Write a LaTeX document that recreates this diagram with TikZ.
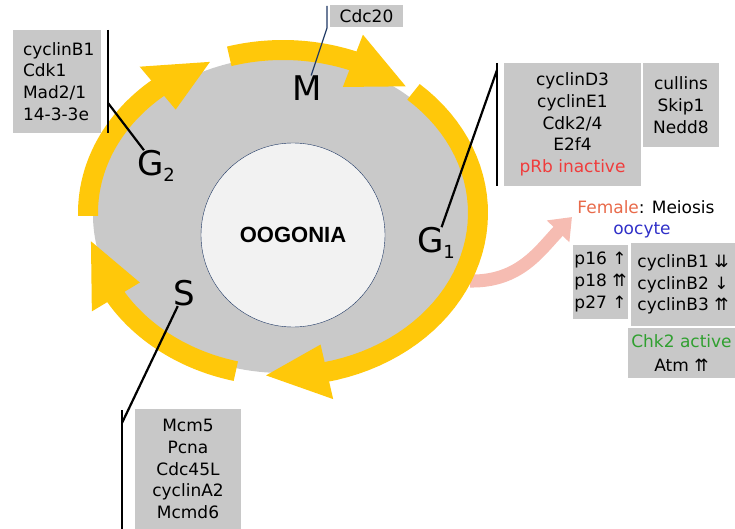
\documentclass[tikz,border=0pt]{standalone}
\usepackage{fontspec}
\setmainfont{DejaVu Sans}
\newfontfamily\titlefont{Liberation Sans}
\usetikzlibrary{arrows.meta}

\definecolor{ringgold}{HTML}{FFC80A}
\definecolor{cellgray}{HTML}{C9C9C9}
\definecolor{boxgray}{HTML}{C8C8C8}
\definecolor{nucleusfill}{HTML}{F2F2F2}
\definecolor{navy}{HTML}{1F3864}
\definecolor{salmon}{HTML}{F6BCB2}
\definecolor{femalered}{HTML}{E86A4A}
\definecolor{oocyteblue}{HTML}{3030C8}
\definecolor{prbred}{HTML}{F03C3C}
\definecolor{chkgreen}{HTML}{30A030}

\newcommand{\phasesub}[2]{#1\raisebox{-6pt}{\fontsize{18}{18}\selectfont #2}}

\begin{document}
\begin{tikzpicture}[x=1pt, y=-1pt,
	box/.style={fill=boxgray, inner sep=0pt, font=\fontsize{17}{21.7}\selectfont},
	phase/.style={inner sep=0pt, font=\fontsize{34}{36}\selectfont},
	leader/.style={line width=2.2pt, black},
	ring/.style={line width=20pt, ringgold}]
	\useasboundingbox (0,0) rectangle (735,529);

	% cell body
	\fill [cellgray] (283,215) ellipse [x radius=190pt, y radius=158pt];
	\draw [salmon, line width=13pt, -{Triangle[length=20pt, width=30pt]}] (470,281) .. controls (520,282) and (540,250) .. (572,217);

	% cycle arrows: start / head base / tip angles
	\foreach \ts/\tb/\tt in {179/230/248, 254/291/309, 312/437/455, 104/149/170} {
		\draw [ring] plot [domain=\ts:\tb+1, samples=40] ({283+195*cos(\x)},{213+163*sin(\x)});
		\fill [ringgold] ({283+223*cos(\tb)},{213+191*sin(\tb)}) -- ({283+195*cos(\tt)},{213+163*sin(\tt)}) -- ({283+167*cos(\tb)},{213+135*sin(\tb)}) -- cycle;
	}

	\node [circle, draw=navy, thin, fill=nucleusfill, minimum size=184pt, inner sep=0pt,
		font=\titlefont\bfseries\fontsize{22}{26}\selectfont] (oogonia) at (293,235) {OOGONIA};

	% phase labels
	\node [phase] (g2label) at (156,166) {\phasesub{G}{2}};
	\node [phase] (mlabel) at (307,88) {M};
	\node [phase] (g1label) at (436,243) {\phasesub{G}{1}};
	\node [phase] (slabel) at (184,293) {S};

	% protein boxes
	\node [box, minimum width=88pt, minimum height=103pt, text width=68pt, align=left] (g2box) at (57,81.5) {cyclinB1\\Cdk1\\Mad2/1\\14-3-3e};
	\node [box, minimum width=73pt, minimum height=22pt] (cdcbox) at (366.5,16) {Cdc20};
	\node [box, minimum width=137pt, minimum height=123pt, align=center] (g1box) at (572.5,124.5) {cyclinD3\\cyclinE1\\Cdk2/4\\E2f4\\\textcolor{prbred}{pRb inactive}};
	\node [box, minimum width=76pt, minimum height=84pt, align=center] (cullbox) at (681,105) {cullins\\Skip1\\Nedd8};
	\node [box, minimum width=106pt, minimum height=120pt, align=center] (sbox) at (188,469) {Mcm5\\Pcna\\Cdc45L\\cyclinA2\\Mcmd6};

	% meiosis side
	\node [font=\fontsize{17}{20}\selectfont] (female) at (646,207) {\textcolor{femalered}{Female}: Meiosis};
	\node [font=\fontsize{17}{20}\selectfont, text=oocyteblue] (oocyte) at (642,230) {oocyte};
	\node [box, minimum width=55pt, minimum height=74pt, align=left] (pbox) at (600.5,282) {p16 ↑\\p18 ⇈\\p27 ↑};
	\node [box, minimum width=104pt, minimum height=83pt, align=center] (cycbox) at (683,284.5) {cyclinB1 ⇊\\cyclinB2 ↓\\cyclinB3 ⇈};
	\node [box, minimum width=107pt, minimum height=50pt, align=center, font=\fontsize{17}{24}\selectfont] (chkbox) at (681.5,353) {\textcolor{chkgreen}{Chk2 active}\\Atm ⇈};

	% leader lines
	\coordinate (g2top) at (108,30);
	\coordinate (g2bot) at (108,133);
	\coordinate (g2knee) at (108,103);
	\draw [leader] (g2top) -- (g2bot);
	\draw [leader] (g2knee) -- (g2label);

	\coordinate (cdctop) at (327,6);
	\coordinate (cdcknee) at (327,28);
	\draw [navy, line width=1.2pt] (cdctop) -- (cdcknee) -- (mlabel);

	\coordinate (g1top) at (497,63);
	\coordinate (g1bot) at (497,186);
	\coordinate (g1knee) at (497,70);
	\draw [leader] (g1top) -- (g1bot);
	\draw [leader] (g1knee) -- (g1label);

	\coordinate (stop) at (122,410);
	\coordinate (sbot) at (122,529);
	\coordinate (sknee) at (122,423);
	\draw [leader] (stop) -- (sbot);
	\draw [leader] (sknee) -- (slabel);
\end{tikzpicture}
\end{document}
